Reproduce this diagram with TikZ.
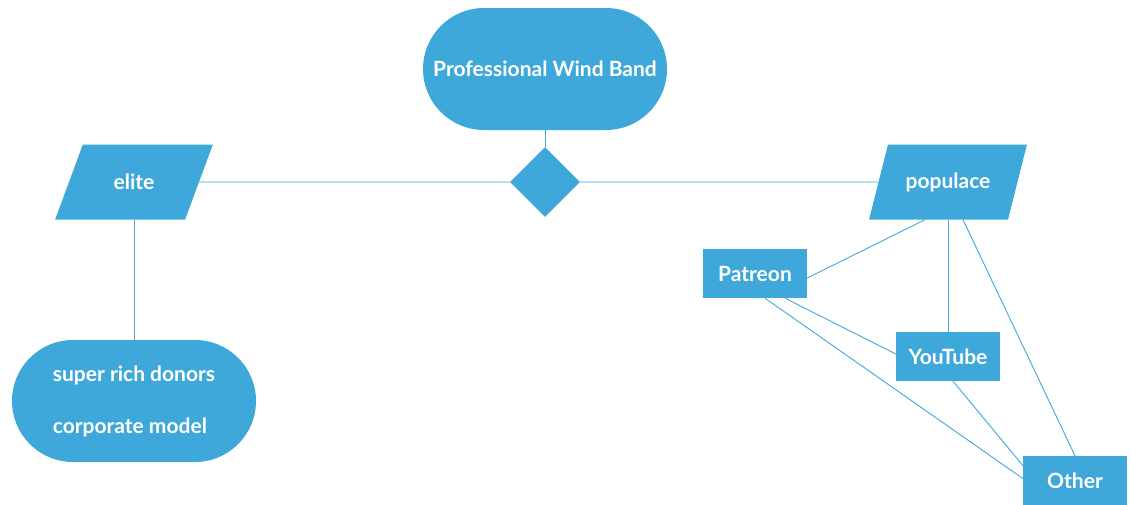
\documentclass[tikz,border=0pt]{standalone}
\usepackage{fontspec}
\setmainfont{Lato}
\usetikzlibrary{shapes.geometric}

\definecolor{flowblue}{RGB}{61,168,217}

\begin{document}
\begin{tikzpicture}[x=1pt,y=-1pt,
		  every node/.style={font=\fontsize{21}{25}\selectfont\bfseries, text=white},
		  terminal/.style={fill=flowblue, rounded corners=61pt, minimum width=244pt, minimum height=122pt, inner sep=0pt},
		  choice/.style={diamond, fill=flowblue, minimum width=70pt, minimum height=70pt, inner sep=0pt},
		  data/.style={trapezium, trapezium left angle=55, trapezium right angle=125, trapezium stretches=true, fill=flowblue, minimum width=158pt, minimum height=75pt, inner sep=0pt},
		  channel/.style={fill=flowblue, minimum width=104pt, minimum height=49pt, inner sep=0pt},
		  link/.style={draw=flowblue, line width=0.9pt}]
		  \useasboundingbox (0,0) rectangle (1131,504);

		  \node[terminal] (band) at (545,69) {Professional Wind Band};
		  \node[choice] (split) at (545,182) {};
		  \node[data] (elite) at (134,182) {elite};
		  \node[data] (populace) at (948,182) {populace};
		  \node[terminal, align=left] (donors) at (134,401) {super rich donors\\[27pt]corporate model};
		  \node[channel] (patreon) at (755,273.5) {Patreon};
		  \node[channel] (youtube) at (948,356.5) {YouTube};
		  \node[channel] (other) at (1075,480.5) {Other};

		  \draw[link] (band) -- (split);
		  \draw[link] (elite.east) -- (split.west);
		  \draw[link] (split.east) -- (populace.west);
		  \draw[link] (donors.north) -- (donors.north |- elite.south);
		  \draw[link] ([xshift=-23pt]populace.south) -- ([yshift=-4.5pt]patreon.east);
		  \draw[link] (youtube.north) -- (youtube.north |- populace.south);
		  \draw[link] ([xshift=15pt]populace.south) -- (other.north);
		  \draw[link] ([xshift=10pt]patreon.south) -- ([yshift=2pt]other.west);
		  \draw[link] ([xshift=30pt]patreon.south) -- ([yshift=2.5pt]youtube.west);
		  \draw[link] ([xshift=5pt]youtube.south) -- ([yshift=15pt]other.west);
		\end{tikzpicture}
\end{document}
